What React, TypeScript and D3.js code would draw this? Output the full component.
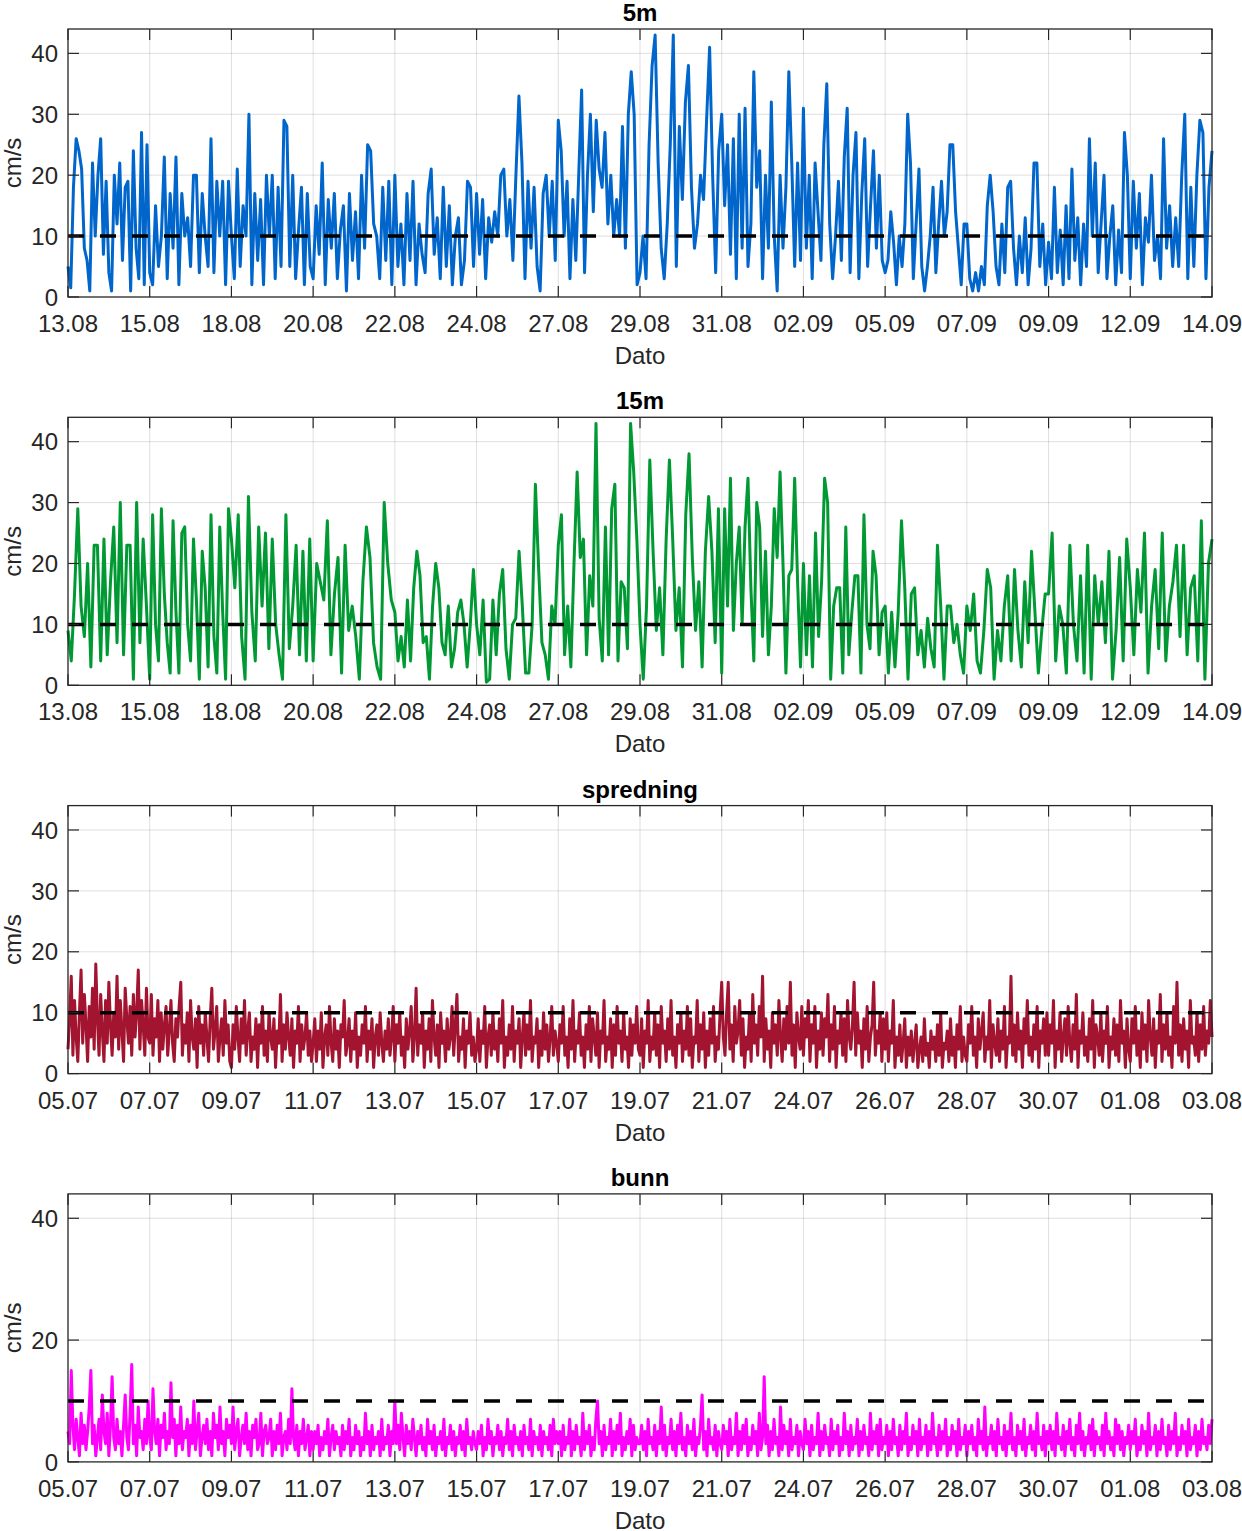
import * as d3 from 'd3';

// x tick labels (MATLAB datetick, evenly spaced)
const ticksAug = ['13.08', '15.08', '18.08', '20.08', '22.08', '24.08', '27.08', '29.08', '31.08', '02.09', '05.09', '07.09', '09.09', '12.09', '14.09'];
const ticksJul = ['05.07', '07.07', '09.07', '11.07', '13.07', '15.07', '17.07', '19.07', '21.07', '24.07', '26.07', '28.07', '30.07', '01.08', '03.08'];

const yTicksFull = [0, 10, 20, 30, 40];
const yTicksBunn = [0, 20, 40];
const yMax = 44;
const threshold = 10;

// current speed (cm/s), one chunk of samples per tick interval
const speed5m: number[][] = [
    [5, 1.5, 18, 26, 24, 21, 8, 6, 1, 22, 10, 20, 26, 7, 19, 4, 1, 20, 12, 22, 6, 18, 19, 1, 24, 8, 3, 27, 2, 25],
    [4, 2, 15, 5, 10, 23, 3, 17, 8, 23, 2, 17, 10, 13, 5, 20, 20, 4, 17, 10, 5, 26, 4, 19, 10, 19, 2, 19],
    [10, 3, 21, 5, 15, 10, 30, 2, 17, 6, 16, 2, 20, 10, 20, 3, 18, 5, 29, 28, 5, 20, 3, 11, 18, 2, 17, 5],
    [3, 15, 7, 22, 2, 16, 8, 17, 3, 11, 15, 1, 17, 6, 14, 3, 20, 8, 25, 24, 12, 10, 3, 18, 6, 19, 2],
    [20, 5, 12, 2, 17, 6, 19, 2, 12, 7, 4, 17, 21, 7, 13, 3, 18, 5, 15, 2, 10, 13, 2, 6, 19, 18, 5],
    [17, 7, 16, 3, 13, 9, 14, 10, 20, 21, 10, 16, 6, 20, 33, 22, 3, 19, 8, 18, 5, 1, 17, 20, 10, 19, 6],
    [29, 24, 10, 19, 3, 16, 6, 20, 34, 4, 20, 30, 14, 29, 21, 18, 27, 12, 20, 10, 16, 10, 28, 8, 30, 37, 30, 2],
    [4, 10, 3, 25, 38, 43, 22, 8, 3, 12, 25, 43, 5, 28, 16, 32, 38, 18, 8, 12, 20, 16, 29, 41, 20, 4, 24],
    [30, 15, 25, 7, 26, 3, 30, 8, 31, 5, 12, 37, 18, 24, 3, 20, 8, 32, 10, 1, 20, 8, 18, 37, 22, 5, 22, 6],
    [31, 8, 20, 3, 22, 14, 6, 25, 35, 12, 3, 10, 19, 6, 23, 31, 4, 20, 27, 3, 17, 26, 5, 15, 24, 8, 20, 6],
    [4, 6, 14, 9, 2, 10, 5, 12, 30, 22, 3, 12, 21, 5, 1, 5, 10, 18, 4, 12, 19, 10, 14, 25, 25, 14, 8, 2, 12],
    [12, 3, 1, 4, 1, 5, 2, 15, 20, 14, 5, 2, 12, 4, 18, 19, 8, 2, 10, 4, 13, 2, 8, 22, 22, 5, 12, 2],
    [9, 3, 18, 4, 11, 2, 15, 3, 21, 6, 13, 2, 12, 5, 26, 10, 22, 4, 12, 20, 3, 10, 15, 2, 11, 4, 27, 20],
    [3, 19, 8, 17, 2, 13, 9, 20, 6, 10, 3, 26, 8, 15, 5, 13, 5, 20, 30, 3, 18, 5, 20, 29, 27, 3, 18, 24],
];

const speed15m: number[][] = [
    [9, 4, 15, 29, 13, 8, 20, 3, 23, 23, 4, 24, 5, 17, 26, 7, 30, 5, 23, 23, 1, 30, 7, 24, 13],
    [1, 28, 10, 4, 29, 15, 7, 2, 27, 12, 2, 25, 26, 10, 4, 24, 14, 1, 22, 16, 3, 28, 8, 2, 26, 12, 1, 29],
    [24, 16, 28, 8, 1, 31, 12, 4, 26, 13, 25, 6, 24, 10, 5, 1, 28, 6, 13, 23, 5, 22, 4, 24],
    [4, 20, 17, 14, 27, 5, 15, 21, 2, 23, 9, 13, 8, 1, 17, 26, 21, 7, 3, 1, 30, 20, 14],
    [12, 4, 8, 3, 14, 4, 16, 22, 18, 7, 8, 1, 13, 20, 16, 7, 5, 13, 3, 6, 12, 14, 10, 3, 10, 19],
    [10, 5, 14, 0.5, 1, 14, 5, 15, 19, 6, 1, 10, 11, 22, 13, 2, 2, 10, 33, 19, 7, 5, 1, 13, 10],
    [23, 28, 5, 13, 3, 20, 35, 21, 24, 5, 18, 13, 43, 11, 4, 26, 5, 29, 33, 4, 17, 16, 6, 43, 35, 24],
    [10, 1, 13, 37, 22, 9, 16, 5, 24, 37, 24, 9, 16, 3, 28, 38, 21, 9, 17, 3, 22, 31, 22, 7, 29],
    [2, 29, 13, 34, 9, 20, 26, 10, 26, 34, 16, 4, 30, 26, 8, 22, 5, 13, 29, 21, 35, 20, 2, 18, 19, 34, 17, 3],
    [20, 5, 18, 3, 25, 8, 17, 34, 30, 1, 13, 16, 16, 2, 26, 5, 12, 18, 18, 2, 28, 10, 6, 22, 18, 5, 12],
    [13, 2, 12, 3, 12, 27, 16, 1, 15, 16, 5, 9, 3, 11, 6, 3, 23, 13, 1, 13, 13, 7, 10, 5, 2],
    [13, 9, 15, 4, 2, 9, 19, 16, 1, 9, 4, 13, 18, 4, 19, 9, 3, 17, 7, 22, 12, 2, 9, 15],
    [15, 25, 4, 13, 10, 2, 23, 10, 4, 18, 2, 23, 1, 18, 10, 17, 7, 22, 1, 9, 21, 4, 24],
    [16, 5, 19, 12, 25, 2, 13, 19, 6, 25, 4, 13, 17, 23, 8, 23, 5, 16, 18, 4, 27, 1, 20, 24],
];

const speedSpredning: number[][] = [
    [4, 9, 16, 3, 12, 6, 2, 10, 17, 5, 13, 8, 2, 11, 6, 14, 4, 18, 9, 3, 13, 7, 2, 12, 5, 15, 8, 3, 10, 6, 16, 4, 12, 7, 2, 14, 9, 5, 11, 3, 13, 6, 10, 17, 4, 12, 8, 3, 14, 6],
    [5, 13, 3, 9, 6, 12, 2, 10, 4, 8, 11, 3, 7, 12, 5, 2, 9, 6, 11, 15, 3, 8, 5, 10, 2, 12, 6, 4, 9, 1, 11, 5, 8, 3, 10, 6, 2, 9, 14, 4, 7, 11, 2, 6, 9, 3, 12, 5, 8, 2],
    [1, 8, 4, 11, 6, 2, 9, 5, 12, 3, 7, 10, 2, 6, 4, 9, 1, 8, 5, 11, 3, 7, 2, 10, 6, 4, 9, 1, 7, 5, 13, 2, 8, 4, 10, 6, 3, 9, 1, 7, 5, 11, 2, 8, 4, 6, 10, 3, 7, 2],
    [5, 9, 2, 7, 4, 10, 1, 6, 8, 3, 11, 5, 2, 9, 4, 7, 1, 8, 6, 12, 3, 5, 9, 2, 7, 4, 10, 1, 6, 3, 8, 5, 11, 2, 7, 4, 9, 1, 6, 8, 3, 10, 5, 2, 7, 4, 9, 3, 6, 11],
    [2, 8, 5, 10, 3, 6, 1, 9, 4, 7, 11, 2, 6, 14, 3, 8, 5, 10, 1, 7, 4, 9, 2, 12, 6, 3, 8, 1, 10, 5, 7, 2, 9, 4, 6, 11, 3, 8, 13, 2, 6, 4, 9, 1, 7, 5, 10, 3, 6, 2],
    [4, 9, 2, 7, 5, 11, 1, 6, 8, 3, 10, 4, 7, 2, 9, 5, 12, 1, 6, 3, 8, 4, 11, 2, 7, 5, 9, 1, 6, 10, 3, 8, 4, 12, 2, 6, 5, 9, 1, 7, 3, 10, 4, 8, 2, 6, 11, 3, 7, 5],
    [2, 8, 5, 11, 3, 6, 1, 9, 4, 12, 2, 7, 5, 10, 3, 6, 1, 8, 4, 11, 2, 9, 6, 3, 10, 1, 7, 5, 12, 2, 6, 4, 9, 1, 8, 3, 11, 5, 7, 2, 10, 4, 6, 1, 9, 3, 8, 5, 11, 4],
    [3, 9, 1, 7, 5, 12, 2, 6, 4, 10, 3, 8, 1, 11, 5, 7, 2, 9, 4, 12, 3, 6, 1, 8, 5, 10, 2, 7, 4, 11, 3, 9, 1, 6, 5, 12, 2, 8, 4, 10, 1, 7, 3, 9, 5, 11, 2, 6, 4, 10],
    [15, 6, 3, 10, 15, 4, 8, 2, 11, 5, 7, 12, 3, 9, 1, 6, 4, 10, 2, 13, 5, 8, 3, 11, 6, 16, 2, 9, 4, 7, 1, 10, 5, 8, 3, 12, 6, 2, 9, 4, 11, 5, 15, 3, 8, 1, 10, 6, 4, 11],
    [3, 9, 6, 12, 2, 8, 5, 11, 1, 7, 4, 10, 3, 9, 6, 13, 2, 8, 4, 11, 1, 7, 5, 10, 3, 9, 2, 12, 6, 4, 8, 15, 3, 10, 5, 7, 1, 9, 4, 11, 2, 6, 8, 15, 3, 7, 5, 10, 2, 9],
    [4, 10, 2, 7, 5, 12, 1, 6, 3, 8, 2, 5, 9, 1, 6, 3, 7, 2, 5, 8, 1, 4, 6, 2, 9, 3, 5, 1, 7, 4, 6, 2, 8, 3, 10, 1, 5, 4, 7, 2, 9, 3, 6, 1, 8, 4, 11, 2, 6, 3],
    [2, 8, 5, 11, 3, 6, 1, 9, 4, 7, 10, 2, 6, 4, 12, 1, 8, 5, 3, 9, 2, 7, 4, 11, 1, 6, 5, 16, 3, 8, 2, 10, 4, 7, 1, 9, 5, 12, 3, 6, 2, 8, 4, 11, 1, 7, 5, 9, 3, 10],
    [3, 8, 5, 12, 1, 7, 4, 10, 2, 6, 9, 3, 11, 5, 2, 8, 4, 13, 1, 7, 5, 10, 3, 6, 2, 9, 4, 12, 1, 8, 6, 3, 10, 2, 7, 5, 11, 1, 6, 4, 9, 3, 8, 2, 12, 5, 7, 1, 9, 4],
    [2, 9, 5, 11, 3, 7, 1, 10, 4, 8, 2, 12, 6, 3, 9, 1, 7, 5, 13, 2, 8, 4, 10, 3, 6, 1, 11, 5, 15, 3, 8, 2, 9, 4, 7, 1, 12, 5, 6, 3, 10, 2, 8, 4, 11, 3, 7, 5, 12, 6],
];

const speedBunn: number[][] = [
    [5, 3, 15, 6, 2, 7, 4, 1, 8, 3, 6, 2, 5, 9, 15, 3, 6, 1, 4, 7, 2, 11, 5, 3, 8, 1, 6, 14, 4, 2, 7, 3, 5, 1, 6, 11, 4, 2, 8, 16, 3, 6, 1, 9, 4, 5, 2, 7, 3, 10],
    [4, 2, 12, 5, 3, 7, 1, 6, 4, 8, 2, 5, 3, 13, 4, 7, 1, 6, 3, 9, 2, 5, 4, 7, 1, 6, 3, 10, 2, 5, 8, 1, 4, 6, 3, 7, 2, 5, 1, 8, 4, 6, 2, 9, 3, 5, 1, 7, 4, 6],
    [3, 9, 2, 5, 7, 1, 4, 6, 3, 8, 2, 5, 1, 6, 4, 7, 2, 3, 8, 1, 5, 6, 3, 4, 7, 1, 5, 2, 6, 3, 8, 1, 4, 5, 2, 7, 3, 12, 4, 2, 6, 1, 5, 3, 7, 2, 4, 6, 1, 5],
    [2, 5, 3, 6, 1, 4, 2, 5, 3, 7, 1, 4, 6, 2, 5, 3, 4, 1, 6, 2, 5, 3, 7, 1, 4, 2, 6, 3, 5, 1, 4, 2, 8, 3, 5, 1, 6, 2, 4, 3, 5, 1, 7, 2, 4, 3, 6, 1, 5, 3],
    [10, 3, 6, 2, 8, 4, 1, 6, 3, 5, 2, 7, 4, 1, 5, 3, 6, 2, 4, 1, 7, 3, 5, 2, 6, 1, 4, 3, 5, 2, 7, 1, 4, 3, 6, 2, 5, 1, 4, 3, 6, 2, 5, 1, 7, 3, 4, 2, 5, 3],
    [2, 5, 3, 6, 1, 4, 2, 7, 3, 5, 1, 4, 3, 6, 2, 5, 1, 4, 3, 7, 2, 5, 1, 6, 3, 4, 2, 5, 1, 6, 3, 4, 2, 7, 1, 5, 3, 4, 2, 6, 1, 5, 3, 4, 2, 6, 1, 7, 3, 5],
    [3, 5, 1, 6, 2, 4, 3, 7, 1, 5, 2, 6, 3, 4, 1, 8, 2, 5, 3, 6, 1, 4, 2, 7, 10, 3, 5, 1, 6, 2, 4, 3, 7, 1, 5, 2, 6, 3, 8, 1, 4, 2, 5, 3, 7, 1, 6, 2, 4, 3],
    [3, 6, 2, 5, 1, 7, 3, 4, 2, 6, 1, 5, 3, 9, 2, 6, 1, 4, 3, 7, 2, 5, 1, 6, 3, 8, 2, 4, 1, 6, 3, 5, 2, 7, 1, 4, 3, 6, 11, 2, 5, 1, 7, 3, 4, 2, 6, 1, 5, 3],
    [2, 6, 3, 5, 1, 7, 2, 4, 3, 8, 1, 5, 2, 6, 3, 7, 1, 4, 2, 6, 3, 5, 1, 8, 2, 4, 14, 3, 6, 1, 5, 2, 7, 3, 4, 1, 9, 2, 6, 3, 5, 1, 7, 2, 4, 3, 6, 1, 5, 3],
    [2, 7, 3, 5, 1, 6, 2, 4, 3, 8, 1, 5, 2, 6, 3, 4, 1, 7, 2, 5, 3, 6, 1, 4, 2, 8, 3, 5, 1, 6, 2, 4, 3, 7, 1, 5, 2, 6, 3, 4, 1, 8, 2, 5, 3, 6, 1, 7, 2, 4],
    [3, 6, 1, 5, 2, 7, 3, 4, 1, 6, 2, 5, 3, 8, 1, 4, 2, 6, 3, 5, 1, 7, 2, 4, 3, 6, 1, 5, 2, 8, 3, 4, 1, 6, 2, 5, 3, 7, 1, 4, 2, 6, 3, 5, 1, 7, 2, 4, 3, 6],
    [1, 5, 3, 6, 2, 4, 1, 7, 3, 5, 2, 9, 1, 4, 3, 6, 2, 5, 1, 7, 3, 4, 2, 6, 1, 5, 3, 8, 2, 4, 1, 6, 3, 5, 2, 7, 1, 4, 3, 6, 2, 5, 1, 8, 3, 4, 2, 6, 1, 5],
    [3, 6, 2, 5, 1, 8, 3, 4, 2, 6, 1, 5, 3, 7, 2, 4, 1, 6, 3, 8, 2, 5, 1, 4, 3, 6, 2, 7, 1, 5, 3, 4, 2, 6, 1, 8, 3, 5, 2, 4, 1, 7, 3, 6, 2, 5, 1, 4, 3, 6],
    [2, 5, 3, 7, 1, 4, 2, 6, 3, 5, 1, 8, 2, 4, 3, 6, 1, 5, 2, 7, 3, 4, 1, 6, 2, 5, 3, 8, 1, 4, 2, 6, 3, 5, 1, 7, 2, 4, 3, 6, 1, 5, 2, 7, 3, 4, 2, 6, 3, 7],
];

const W = 1242;
const H = 1531;
const left = 68;
const right = 1212;
const plotH = 268;
const firstTop = 29;
const step = 388.3;
const tickLen = 11;
const axisColor = '#262626';
const font = '"Liberation Sans", Arial, Helvetica, sans-serif';

interface PanelProps {
    title: string;
    top: number;
    data: number[][];
    color: string;
    xLabels: string[];
    yTicks: number[];
}

function Panel({ title, top, data, color, xLabels, yTicks }: PanelProps) {
    const x = d3.scaleLinear().domain([0, xLabels.length - 1]).range([left, right]);
    const y = d3.scaleLinear().domain([0, yMax]).range([top + plotH, top]);
    const bottom = top + plotH;

    // spread each chunk over its tick interval
    const pts: [number, number][] = [];
    data.forEach((chunk, i) => {
        const n = i === data.length - 1 ? chunk.length - 1 : chunk.length;
        chunk.forEach((v, j) => pts.push([i + j / n, v]));
    });
    const line = d3
        .line<[number, number]>()
        .x((d) => x(d[0]))
        .y((d) => y(d[1]));

    const gridY = yTicks.filter((v) => v > 0);
    const xIdx = d3.range(xLabels.length);

    return (
        <g>
            {/* grid */}
            {xIdx.slice(1, -1).map((i) => (
                <line key={'gx' + i} x1={x(i)} x2={x(i)} y1={top} y2={bottom} stroke="#262626" strokeOpacity={0.15} strokeWidth={1} />
            ))}
            {gridY.map((v) => (
                <line key={'gy' + v} x1={left} x2={right} y1={y(v)} y2={y(v)} stroke="#262626" strokeOpacity={0.15} strokeWidth={1} />
            ))}

            <path d={line(pts) || ''} fill="none" stroke={color} strokeWidth={3} strokeLinejoin="round" />

            <line x1={left} x2={right} y1={y(threshold)} y2={y(threshold)} stroke="#000" strokeWidth={3.5} strokeDasharray="16 16" />

            {/* box + ticks */}
            <rect x={left} y={top} width={right - left} height={plotH} fill="none" stroke={axisColor} strokeWidth={1.3} />
            {xIdx.map((i) => (
                <g key={'tx' + i}>
                    <line x1={x(i)} x2={x(i)} y1={bottom} y2={bottom - tickLen} stroke={axisColor} strokeWidth={1.2} />
                    <line x1={x(i)} x2={x(i)} y1={top} y2={top + tickLen} stroke={axisColor} strokeWidth={1.2} />
                    <text x={x(i)} y={bottom + 35} textAnchor="middle" fontSize={24} fill={axisColor}>
                        {xLabels[i]}
                    </text>
                </g>
            ))}
            {yTicks.map((v) => (
                <g key={'ty' + v}>
                    <line x1={left} x2={left + tickLen} y1={y(v)} y2={y(v)} stroke={axisColor} strokeWidth={1.2} />
                    <line x1={right} x2={right - tickLen} y1={y(v)} y2={y(v)} stroke={axisColor} strokeWidth={1.2} />
                    <text x={left - 10} y={y(v)} dy="0.36em" textAnchor="end" fontSize={24} fill={axisColor}>
                        {v}
                    </text>
                </g>
            ))}

            <text x={(left + right) / 2} y={top - 8} textAnchor="middle" fontSize={24} fontWeight="bold" fill="#000">
                {title}
            </text>
            <text x={(left + right) / 2} y={bottom + 67} textAnchor="middle" fontSize={24} fill={axisColor}>
                Dato
            </text>
            <text
                transform={`translate(21,${(top + bottom) / 2}) rotate(-90)`}
                textAnchor="middle"
                fontSize={24}
                fill={axisColor}
            >
                cm/s
            </text>
        </g>
    );
}

export default function App() {
    const panels = [
        { title: '5m', data: speed5m, color: '#0066cc', xLabels: ticksAug, yTicks: yTicksFull },
        { title: '15m', data: speed15m, color: '#009933', xLabels: ticksAug, yTicks: yTicksFull },
        { title: 'spredning', data: speedSpredning, color: '#a2142f', xLabels: ticksJul, yTicks: yTicksFull },
        { title: 'bunn', data: speedBunn, color: '#ff00ff', xLabels: ticksJul, yTicks: yTicksBunn },
    ];
    return (
        <div style={{ position: 'absolute', left: 0, top: 0 }}>
            <svg width={W} height={H} style={{ display: 'block', background: '#fff', fontFamily: font }}>
                {panels.map((p, i) => (
                    <Panel key={p.title} top={firstTop + i * step} {...p} />
                ))}
            </svg>
        </div>
    );
}
